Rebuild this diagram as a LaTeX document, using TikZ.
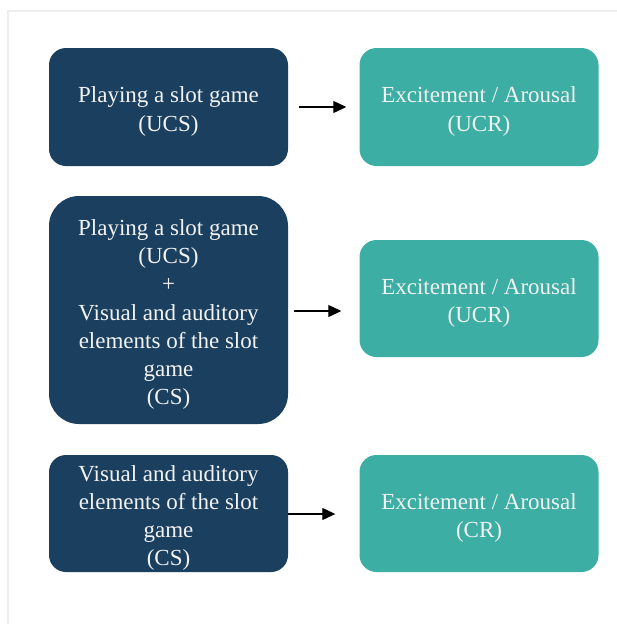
\documentclass[tikz,border=0pt]{standalone}
\usepackage{fontspec}
\setmainfont{Liberation Serif}
\usetikzlibrary{arrows.meta}
\definecolor{navy}{HTML}{1A3F5F}
\definecolor{teal}{HTML}{3DAEA3}
\definecolor{frame}{HTML}{EEEEEE}
\definecolor{label}{HTML}{F2F2F2}
\tikzset{
  box/.style={rounded corners=17pt, minimum width=239pt, inner sep=0pt},
  stim/.style={box, fill=navy},
  resp/.style={box, fill=teal},
  caption/.style={text=label, align=center, inner sep=0pt, yshift=-4.5pt,
    font=\fontsize{23}{28.2}\selectfont},
  link/.style={-{Triangle[length=13pt,width=12pt]}, line width=1.1pt, black}
}
\begin{document}
\begin{tikzpicture}[x=1pt,y=-1pt]
  \useasboundingbox (0,0) rectangle (617,624);
  \fill[white] (0,0) rectangle (617,624);
  % faint page frame
  \draw[frame, line width=1.5pt] (8,624) -- (8,11) -- (617,11);

  % row 1
  \node[stim, minimum height=118pt] (ucs) at (168.5,107) {};
  \node[caption] (ucs-t) at (ucs.center) {Playing a slot game\\(UCS)};
  \node[resp, minimum height=118pt] (ucr1) at (479,107) {};
  \node[caption] (ucr1-t) at (ucr1.center) {Excitement / Arousal\\(UCR)};
  % row 2
  \node[stim, minimum height=228pt, rounded corners=30pt] (pair) at (168.5,310) {};
  \node[caption] (pair-t) at (pair.center)
    {Playing a slot game\\(UCS)\\+\\Visual and auditory\\elements of the slot\\game\\(CS)};
  \node[resp, minimum height=117pt] (ucr2) at (479,298.5) {};
  \node[caption] (ucr2-t) at (ucr2.center) {Excitement / Arousal\\(UCR)};
  % row 3
  \node[stim, minimum height=117pt] (cs) at (168.5,513.5) {};
  \node[caption] (cs-t) at (cs.center)
    {Visual and auditory\\elements of the slot\\game\\(CS)};
  \node[resp, minimum height=117pt] (cr) at (479,513.5) {};
  \node[caption] (cr-t) at (cr.center) {Excitement / Arousal\\(CR)};

  % arrows
  \draw[link, shorten <=11pt, shorten >=13pt] (ucs.east |- 0,107) -- (ucr1.west |- 0,107);
  \draw[link, shorten <=6pt, shorten >=18pt] (pair.east |- 0,311) -- (ucr2.west |- 0,311);
  \draw[link, shorten >=24pt] (cs.east |- 0,514) -- (cr.west |- 0,514);
\end{tikzpicture}
\end{document}
